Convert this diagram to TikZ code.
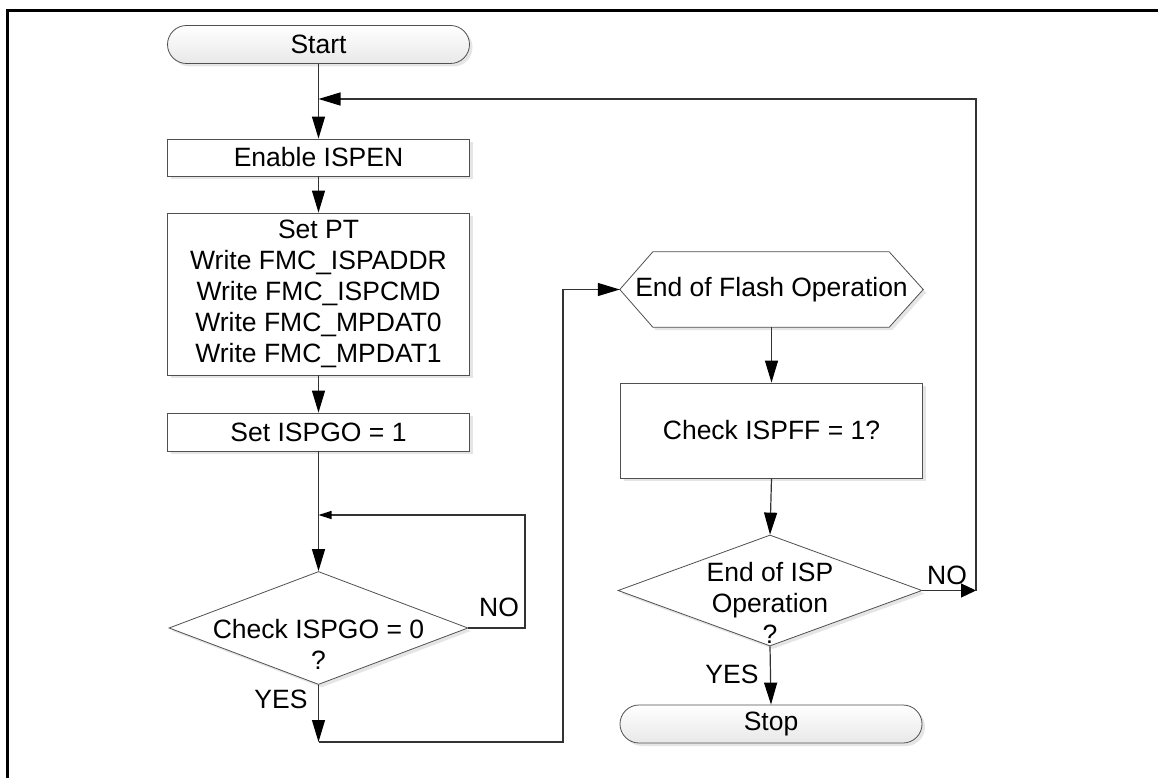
\documentclass[tikz,border=0pt]{standalone}
\usepackage{fontspec}
\setmainfont{Liberation Sans}
\usetikzlibrary{arrows.meta,shapes.geometric,shapes.misc,shadows,calc}
\definecolor{edge}{HTML}{505050}
\definecolor{wire}{HTML}{333333}
\tikzset{
  txt/.style={font=\fontsize{26.5}{31}\selectfont, text=black},
  shad/.style={drop shadow={shadow xshift=3pt,shadow yshift=-3pt,fill=black!10,opacity=1}},
  box/.style={txt, draw=edge, line width=0.8pt, fill=white, shad, minimum width=302pt, inner sep=0pt, align=center},
  pill/.style={txt, rounded rectangle, draw=edge, line width=0.8pt, top color=white, bottom color=black!9, shad, minimum width=302pt, minimum height=38pt, inner sep=0pt},
  decision/.style={diamond, draw=edge, line width=0.8pt, fill=white, shad, inner sep=0pt, aspect=2.7},
  lbl/.style={txt, inner sep=0pt, align=center},
  conn/.style={draw=wire, line width=1.2pt},
  arr/.style={conn, -{Triangle[length=22pt,width=13pt,fill=black,color=black]}},
  sarr/.style={conn, -{Triangle[length=13pt,width=8pt,fill=black,color=black]}},
  narr/.style={conn, -{Triangle[length=15pt,width=14pt,fill=black,color=black]}},
}
\begin{document}
\begin{tikzpicture}[x=1pt,y=-1pt]
\useasboundingbox (0,0) rectangle (1158,778);
\draw[line width=3pt] (7,778) -- (7,10.5) -- (1158,10.5);

% left column
\node[pill] (start) at (318.5,44.5) {Start};
\node[box, minimum height=37pt] (en) at (318.5,157.5) {Enable ISPEN};
\node[box, minimum height=162pt] (pt) at (318.5,294) {Set PT\\Write FMC\_ISPADDR\\Write FMC\_ISPCMD\\Write FMC\_MPDAT0\\Write FMC\_MPDAT1};
\node[box, minimum height=38pt] (go) at (318.5,432) {Set ISPGO = 1};
\node[decision, minimum width=299pt, minimum height=113pt] (d1) at (318.5,628) {};
\node[lbl] (t1) at (318.5,644) {Check ISPGO = 0\\?};

% right column
\node[lbl, minimum width=303pt, minimum height=75pt] (eof) at (771.5,289.5) {End of Flash Operation};
\fill[black!10] ($(eof.west)+(3,3)$) -- ($(eof.north west)+(36,3)$) -- ($(eof.north east)+(-31,3)$) -- ($(eof.east)+(3,3)$) -- ($(eof.south east)+(-31,3)$) -- ($(eof.south west)+(36,3)$) -- cycle;
\draw[draw=edge, line width=0.8pt, fill=white] (eof.west) -- ($(eof.north west)+(33,0)$) -- ($(eof.north east)+(-34,0)$) -- (eof.east) -- ($(eof.south east)+(-34,0)$) -- ($(eof.south west)+(33,0)$) -- cycle;
\node[lbl] at (eof.center) {End of Flash Operation};
\node[box, minimum height=95pt] (ff) at (771.5,430.5) {Check ISPFF = 1?};
\node[decision, minimum width=304pt, minimum height=111pt] (d2) at (770,590.5) {};
\node[lbl] (t2) at (770,603) {End of ISP\\Operation\\?};
\node[pill] (stop) at (771,724) {Stop};

% junction coordinates
\coordinate (j0) at (318.5,99);
\coordinate (j1) at (318.5,515);
\coordinate (c1) at (525,515);
\coordinate (c2) at (318.5,742);
\coordinate (c3) at (563,742);
\coordinate (c4) at (976,590.5);

% connectors
\draw[arr] (start.south) -- (en.north);
\draw[arr] (en.south) -- (pt.north);
\draw[arr] (pt.south) -- (go.north);
\draw[arr] (go.south) -- (d1.north);
\draw[sarr] (d1.east) -| (c1) -- (j1);
\draw[arr] (d1.south) -- (c2);
\draw[arr] (c2) -- (c3) |- (eof.west);
\draw[arr] (eof.south) -- (ff.north);
\draw[arr] (ff.south) -- (d2.north);
\draw[narr] (d2.east) -- (c4);
\draw[arr] (c4) |- (j0);
\draw[arr] (d2.south) -- (stop.north);

% labels
\node[lbl] (no1) at (499,607) {NO};
\node[lbl] (yes1) at (281,699) {YES};
\node[lbl] (no2) at (947,575) {NO};
\node[lbl] (yes2) at (732,674) {YES};
\end{tikzpicture}
\end{document}
